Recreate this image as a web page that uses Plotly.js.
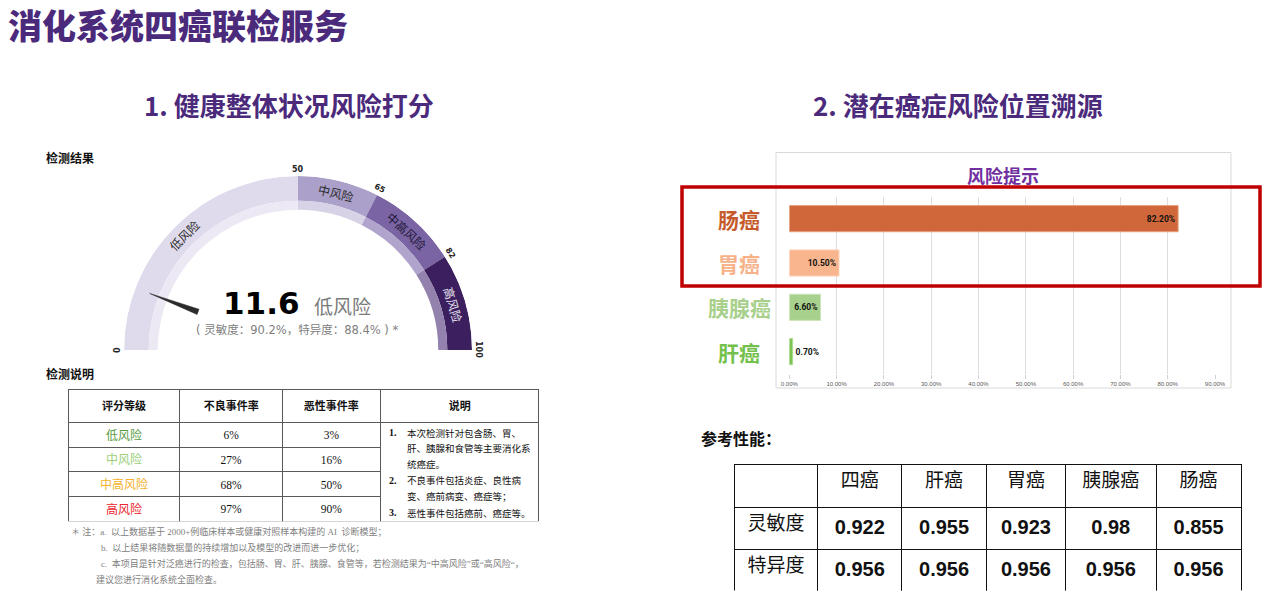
<!DOCTYPE html>
<html><head><meta charset="utf-8">
<script src="https://cdn.plot.ly/plotly-3.0.1.min.js"></script>
<style>html,body{margin:0;padding:0;background:#fff}#chart{width:1271px;height:606px}</style>
</head><body><div id="chart"></div>
<script>
// ---------------- DATA ----------------
const MAIN_TITLE = '消化系统四癌联检服务';
const SECTION_TITLES = ['1. 健康整体状况风险打分', '2. 潜在癌症风险位置溯源'];

// gauge
const SCORE = 11.6;
const SCORE_LEVEL = '低风险';
const GAUGE_BREAKS = [0, 50, 65, 82, 100];
const GAUGE_LABELS = ['低风险', '中风险', '中高风险', '高风险'];
const SENS_SPEC_NOTE = '( 灵敏度：90.2%，特异度：88.4% ) *';

// risk level table
const TBL1_HEADER = ['评分等级', '不良事件率', '恶性事件率'];
const TBL1_LEVELS = ['低风险', '中风险', '中高风险', '高风险'];
const TBL1_ADVERSE = ['6%', '27%', '68%', '97%'];
const TBL1_MALIGNANT = ['3%', '16%', '50%', '90%'];
const TBL1_NOTE_HEADER = '说明';
const TBL1_NOTE_NUMS = ['1.', '', '', '2.', '', '3.'];
const TBL1_NOTE_LINES = ['本次检测针对包含肠、胃、', '肝、胰腺和食管等主要消化系', '统癌症。',
  '不良事件包括炎症、良性病', '变、癌前病变、癌症等；', '恶性事件包括癌前、癌症等。'];
const FOOTNOTES = [
  '＊ 注：a.\u00a0\u00a0以上数据基于 2000+例临床样本或健康对照样本构建的 AI\u00a0\u00a0诊断模型；',
  'b.\u00a0\u00a0以上结果将随数据量的持续增加以及模型的改进而进一步优化；',
  'c.\u00a0\u00a0本项目是针对泛癌进行的检查，包括肠、胃、肝、胰腺、食管等，若检测结果为“中高风险”或“高风险“，',
  '建议您进行消化系统全面检查。'];

// risk bars
const BAR_TITLE = '风险提示';
const CANCERS = ['肠癌', '胃癌', '胰腺癌', '肝癌'];
const RISK = [0.822, 0.105, 0.066, 0.007];
const X_TICKS = [0, 0.1, 0.2, 0.3, 0.4, 0.5, 0.6, 0.7, 0.8, 0.9];

// performance table
const PERF_TITLE = '参考性能：';
const PERF_COLS = ['四癌', '肝癌', '胃癌', '胰腺癌', '肠癌'];
const PERF_ROWS = ['灵敏度', '特异度'];
const SENSITIVITY = [0.922, 0.955, 0.923, 0.98, 0.855];
const SPECIFICITY = [0.956, 0.956, 0.956, 0.956, 0.956];

// ---------------- STYLE / LAYOUT ----------------
const W = 1271, H = 606;
const px = x => x / W, py = y => 1 - y / H;
const CJK = 'Noto Sans CJK SC';
const SERIF = 'Liberation Serif, Noto Sans CJK SC';
const PURPLE = '#4b2a7c';

const OUTER_COLORS = ['#dfdbec', '#aaa0ca', '#7a64a3', '#3c1f5e'];
const INNER_COLORS = ['#ece9f4', '#d8d2e7', '#b1a4cc', '#9382ad'];
const GLABEL_COLORS = ['#2e2e2e', '#2e2e2e', '#21163a', '#e6e1ef'];
const LEVEL_COLORS = ['#5a9c42', '#9ccf7c', '#f5b12a', '#e8242c'];
const BAR_COLORS = ['#d0673a', '#f9b58e', '#a9d18e', '#7cc353'];
const BAR_LINES = ['#e8a07c', '#fcd2b8', '#cbe4b9', '#a9da8e'];
const CAT_COLORS = ['#c55a2b', '#f7b28a', '#a8d08c', '#74c04c'];

// gauge geometry (pixels)
const GX = 298, GY = 350, GR = 174;
const deg = v => v * 1.8;
const mids = [], spans = [];
for (let i = 0; i < GAUGE_LABELS.length; i++) {
  mids.push(deg((GAUGE_BREAKS[i] + GAUGE_BREAKS[i + 1]) / 2));
  spans.push(deg(GAUGE_BREAKS[i + 1] - GAUGE_BREAKS[i]));
}
function gaugePos(v, f) {
  const a = deg(v) * Math.PI / 180;
  return { x: px(GX - f * GR * Math.cos(a)), y: py(GY - f * GR * Math.sin(a)) };
}

const traces = [];
// gauge outer band
traces.push({
  type: 'barpolar', theta: mids, width: spans, r: mids.map(() => 0.142), base: mids.map(() => 0.858),
  marker: { color: OUTER_COLORS, line: { width: 0 } }, hoverinfo: 'skip', showlegend: false
});
// gauge inner band
traces.push({
  type: 'barpolar', theta: mids, width: spans, r: mids.map(() => 0.052), base: mids.map(() => 0.806),
  marker: { color: INNER_COLORS, line: { width: 0 } }, hoverinfo: 'skip', showlegend: false
});
// needle
const na = deg(SCORE);
traces.push({
  type: 'scatterpolar', mode: 'lines', r: [0.615, 0.912, 0.615, 0.615], theta: [na - 1.5, na, na + 1.5, na - 1.5],
  fill: 'toself', fillcolor: '#2b2b2b', line: { width: 0.5, color: '#2b2b2b' }, hoverinfo: 'skip', showlegend: false
});

// risk bar chart
traces.push({
  type: 'bar', orientation: 'h', x: RISK, y: CANCERS, xaxis: 'x', yaxis: 'y',
  marker: { color: BAR_COLORS, line: { color: BAR_LINES, width: 1 } },
  texttemplate: '%{x:.2%}', textposition: ['inside', 'inside', 'inside', 'outside'],
  insidetextanchor: 'end', constraintext: 'none', cliponaxis: false,
  textfont: { family: 'Roboto', size: 8.5, color: '#111', weight: 'bold' },
  hoverinfo: 'skip', showlegend: false
});

// risk level table (3 columns)
const T1_TOP = 389.3, T1_BOT = 521.7, T1_HH = 33.4, T1_RH = 24.6;
traces.push({
  type: 'table',
  domain: { x: [px(68.3), px(380.7)], y: [py(T1_BOT), py(T1_TOP)] },
  columnwidth: [111.7, 102.7, 98],
  header: {
    values: TBL1_HEADER.map(h => '<b>' + h + '</b>'), height: T1_HH, align: 'center',
    line: { color: '#595959', width: 1 }, fill: { color: '#fff' },
    font: { family: CJK, size: 11, color: '#111' }
  },
  cells: {
    values: [TBL1_LEVELS, TBL1_ADVERSE, TBL1_MALIGNANT],
    height: T1_RH, align: 'center',
    line: { color: '#595959', width: 1 }, fill: { color: '#fff' },
    font: { family: [CJK, SERIF, SERIF], size: [12, 11.5, 11.5], color: [LEVEL_COLORS, '#111', '#111'] }
  }
});
// note column
traces.push({
  type: 'table',
  domain: { x: [px(380.7), px(539)], y: [py(T1_BOT), py(T1_TOP)] },
  header: {
    values: ['<b>' + TBL1_NOTE_HEADER + '</b>'], height: T1_HH, align: 'center',
    line: { color: '#595959', width: 1 }, fill: { color: '#fff' },
    font: { family: CJK, size: 11, color: '#111' }
  },
  cells: {
    values: [['']], height: T1_RH * 4, line: { color: '#595959', width: 1 }, fill: { color: '#fff' }
  }
});

// performance table
traces.push({
  type: 'table',
  domain: { x: [px(734), px(1242)], y: [py(591), py(464.5)] },
  columnwidth: [84, 84, 85, 79, 91, 85],
  header: {
    values: [''].concat(PERF_COLS), height: 43, align: 'center',
    line: { color: '#111', width: 1 }, fill: { color: '#fff' },
    font: { family: CJK, size: 19, color: '#111' }
  },
  cells: {
    values: [PERF_ROWS].concat(PERF_COLS.map((c, i) => ['<b>' + String(SENSITIVITY[i]) + '</b>', '<b>' + String(SPECIFICITY[i]) + '</b>'])),
    height: 42, align: 'center',
    line: { color: '#111', width: 1 }, fill: { color: '#fff' },
    font: { family: [CJK, 'Liberation Sans', 'Liberation Sans', 'Liberation Sans', 'Liberation Sans', 'Liberation Sans'], size: [19, 20, 20, 20, 20, 20], color: '#111' }
  }
});

// ---------------- ANNOTATIONS ----------------
const ann = [];
function A(text, x, y, o) {
  ann.push(Object.assign({ text: text, x: px(x), y: py(y), xref: 'paper', yref: 'paper', showarrow: false,
    xanchor: 'center', yanchor: 'middle' }, o || {}));
}
A(MAIN_TITLE, 7, 24, { xanchor: 'left', borderpad: 0, font: { family: CJK, size: 34, color: PURPLE, weight: 900 } });
A(SECTION_TITLES[0], 289, 105, { font: { family: CJK, size: 26, color: PURPLE, weight: 'bold' } });
A(SECTION_TITLES[1], 957.5, 105, { font: { family: CJK, size: 26, color: PURPLE, weight: 'bold' } });
A('检测结果', 44, 157, { xanchor: 'left', font: { family: CJK, size: 12, color: '#111', weight: 'bold' } });
A('检测说明', 44, 373, { xanchor: 'left', font: { family: CJK, size: 12, color: '#111', weight: 'bold' } });

// gauge ticks
GAUGE_BREAKS.forEach(b => {
  const p = gaugePos(b, 1.04);
  ann.push({ text: '<b>' + b + '</b>', x: p.x, y: p.y, xref: 'paper', yref: 'paper', showarrow: false,
    xanchor: 'center', yanchor: 'middle',
    textangle: deg(b) - 90, font: { family: 'DejaVu Sans', size: 8, color: '#222' } });
});
// gauge band labels
GAUGE_LABELS.forEach((t, i) => {
  const v = (GAUGE_BREAKS[i] + GAUGE_BREAKS[i + 1]) / 2;
  const p = gaugePos(v, 0.93);
  ann.push({ text: t, x: p.x, y: p.y, xref: 'paper', yref: 'paper', showarrow: false,
    xanchor: 'center', yanchor: 'middle',
    textangle: deg(v) - 90, font: { family: CJK, size: 12, color: GLABEL_COLORS[i] } });
});
A('<b>' + SCORE + '</b>', 261, 303, { font: { family: 'DejaVu Sans', size: 31, color: '#000' } });
A(SCORE_LEVEL, 342, 305, { font: { family: CJK, size: 19, color: '#7a7a7a' } });
A(SENS_SPEC_NOTE, 297, 330, { font: { family: 'DejaVu Sans, Noto Sans CJK SC', size: 11.5, color: '#808080' } });

// note column lines
const NOTE_Y = [432.7, 448.3, 464, 480, 496, 512.7];
TBL1_NOTE_LINES.forEach((t, i) => {
  if (TBL1_NOTE_NUMS[i]) A('<b>' + TBL1_NOTE_NUMS[i] + '</b>', 386.5, NOTE_Y[i], { xanchor: 'left', font: { family: SERIF, size: 10, color: '#111' } });
  A(t, 405, NOTE_Y[i], { xanchor: 'left', font: { family: CJK, size: 9.5, color: '#111' } });
});
// footnotes
const FN_X = [69.3, 99.3, 99.3, 94.3], FN_Y = [531, 547, 563, 579];
FOOTNOTES.forEach((t, i) => A(t, FN_X[i], FN_Y[i], { xanchor: 'left', font: { family: SERIF, size: 9, color: '#808080' } }));

// bar chart labels
A('<b>' + BAR_TITLE + '</b>', 1003, 175, { font: { family: CJK, size: 18, color: '#7030a0' } });
CANCERS.forEach((c, i) => ann.push({ text: '<b>' + c + '</b>', x: px(739), y: c, xref: 'paper', yref: 'y',
  xanchor: 'center', yanchor: 'middle',
  showarrow: false, font: { family: CJK, size: 21, color: CAT_COLORS[i] } }));
A(PERF_TITLE, 699, 438, { xanchor: 'left', font: { family: CJK, size: 16, color: '#111', weight: 'bold' } });

const layout = {
  width: W, height: H, margin: { l: 0, r: 0, t: 0, b: 0 },
  paper_bgcolor: '#fff', plot_bgcolor: 'rgba(0,0,0,0)', showlegend: false,
  font: { family: CJK },
  polar: {
    domain: { x: [px(GX - GR), px(GX + GR)], y: [py(GY), py(GY - GR)] },
    sector: [0, 180], bgcolor: 'rgba(0,0,0,0)', hole: 0,
    radialaxis: { visible: false, range: [0, 1] },
    angularaxis: { visible: false, direction: 'clockwise', rotation: 180 }
  },
  xaxis: {
    domain: [px(789.3), px(1215)], range: [0, 0.9], tickvals: X_TICKS, tickformat: '.2%',
    showgrid: true, gridcolor: '#dedede', gridwidth: 1, zeroline: false, showline: false,
    ticks: 'outside', ticklen: 4, tickcolor: '#d0d0d0', tickfont: { family: 'Liberation Sans', size: 6, color: '#595959' },
    fixedrange: true
  },
  yaxis: {
    domain: [py(373.8), py(196.5)], type: 'category', categoryorder: 'array', categoryarray: CANCERS,
    autorange: 'reversed', showticklabels: false, showgrid: false, zeroline: false, fixedrange: true
  },
  bargap: 0.41,
  shapes: [
    { type: 'rect', xref: 'paper', yref: 'paper', x0: px(776), x1: px(1231), y0: py(388), y1: py(152.5),
      line: { color: '#d9d9d9', width: 1 }, layer: 'below' },
    { type: 'rect', xref: 'paper', yref: 'paper', x0: px(682), x1: px(1260), y0: py(286), y1: py(187),
      line: { color: '#c00000', width: 3.5 } }
  ],
  annotations: ann
};
Plotly.newPlot('chart', traces, layout, { displayModeBar: false, staticPlot: true });
</script></body></html>
